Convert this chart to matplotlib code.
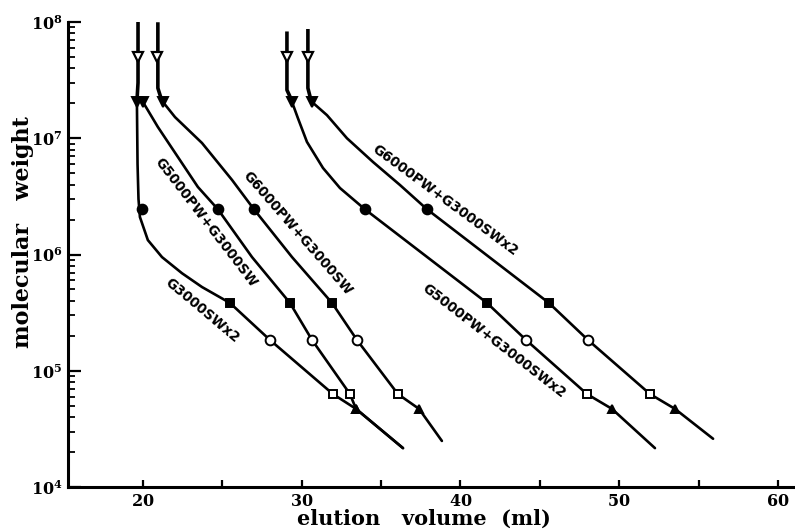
import math
import matplotlib
matplotlib.use("Agg")
import matplotlib.pyplot as plt
from matplotlib.ticker import LogLocator, FixedLocator, NullFormatter, FuncFormatter

plt.rcParams['mathtext.fontset'] = 'dejavuserif'

# ---- data ----
curve_names = ["G3000SWx2", "G5000PW+G3000SW", "G6000PW+G3000SW",
               "G5000PW+G3000SWx2", "G6000PW+G3000SWx2"]

# molecular weights of the standards (marker rows)
mw_open_tri = 5.0e7
mw_tri = 2.05e7
mw_circle = 2.45e6
mw_square = 3.83e5
mw_open_circle = 1.84e5
mw_open_square = 6.3e4
mw_small_tri = 4.7e4

# elution volumes of standards for each curve
ev_open_tri = [19.69, None, 20.88, 29.07, 30.39]
ev_tri = [19.62, 20.00, 21.26, 29.39, 30.65]
ev_circle = [19.94, 24.72, 26.99, 33.98, 37.89]
ev_square = [25.48, 29.26, 31.91, 41.67, 45.57]
ev_open_circle = [28.00, 30.65, 33.48, 44.13, 48.03]
ev_open_square = [31.97, 33.04, 36.06, 47.97, 51.94]
ev_small_tri = [33.42, 33.42, 37.39, 49.54, 53.51]

# arrow (excluded) lines: top -> filled triangle
arrow_x = [[19.69, 19.69, 19.62], None, [20.94, 20.94, 21.10, 21.26],
           [29.07, 29.07, 29.25, 29.39], [30.39, 30.39, 30.52, 30.65]]
arrow_y = [[1.0e8, 3.0e7, 2.05e7], None, [9.6e7, 2.7e7, 2.3e7, 2.05e7],
           [8.0e7, 2.6e7, 2.3e7, 2.05e7], [8.4e7, 2.7e7, 2.3e7, 2.05e7]]

# calibration curve traces
c1_x = [19.62, 19.66, 19.72, 19.81, 20.31, 21.20, 22.46, 23.72, 25.48, 28.00, 31.97, 33.42, 36.38]
c1_y = [2.05e7, 6.0e6, 3.0e6, 2.1e6, 1.33e6, 9.5e5, 6.9e5, 5.25e5, 3.83e5, 1.84e5, 6.3e4, 4.7e4, 2.16e4]
c2_x = [20.00, 20.94, 22.20, 23.46, 24.72, 26.87, 29.26, 30.65, 33.04, 33.42, 36.38]
c2_y = [2.05e7, 1.25e7, 6.9e6, 3.81e6, 2.45e6, 9.5e5, 3.83e5, 1.84e5, 6.3e4, 4.7e4, 2.16e4]
c3_x = [21.26, 22.02, 23.72, 25.61, 26.99, 29.39, 31.91, 33.48, 36.06, 37.39, 38.83]
c3_y = [2.05e7, 1.52e7, 9.1e6, 4.38e6, 2.45e6, 9.5e5, 3.83e5, 1.84e5, 6.3e4, 4.7e4, 2.49e4]
c4_x = [29.39, 29.76, 30.33, 31.34, 32.41, 33.98, 41.67, 44.13, 47.97, 49.54, 52.25]
c4_y = [2.05e7, 1.49e7, 9.3e6, 5.55e6, 3.73e6, 2.45e6, 3.83e5, 1.84e5, 6.3e4, 4.7e4, 2.16e4]
c5_x = [30.65, 31.59, 32.85, 34.49, 36.19, 37.89, 45.57, 48.03, 51.94, 53.51, 55.91]
c5_y = [2.05e7, 1.58e7, 1.0e7, 6.25e6, 3.96e6, 2.45e6, 3.83e5, 1.84e5, 6.3e4, 4.7e4, 2.6e4]

curves_x = [c1_x, c2_x, c3_x, c4_x, c5_x]
curves_y = [c1_y, c2_y, c3_y, c4_y, c5_y]

x_ticks = [20, 30, 40, 50, 60]
x_minor = [25, 35, 45, 55]

# ---- figure ----
fig = plt.figure(figsize=(7.95, 5.31), dpi=100)
ax = fig.add_axes([68 / 795, 44 / 531, (795 - 68) / 795, 465 / 531])

for cx, cy in zip(curves_x, curves_y):
    ax.plot(cx, cy, color='black', lw=1.9, solid_capstyle='round', zorder=2)
for axx, axy in zip(arrow_x, arrow_y):
    if axx is not None:
        ax.plot(axx, axy, color='black', lw=2.6, zorder=2)

def mk(evs, mw, marker, ms, filled, mew=1.4):
    xs = [e for e in evs if e is not None]
    ax.plot(xs, [mw] * len(xs), linestyle='none', marker=marker, ms=ms,
            mfc='black' if filled else 'white', mec='black', mew=mew, zorder=3)

mk(ev_open_tri, mw_open_tri, 'v', 7, False, 1.6)
mk(ev_tri, mw_tri, 'v', 7, True)
mk(ev_circle, mw_circle, 'o', 7, True)
mk(ev_square, mw_square, 's', 6, True)
mk(ev_open_circle, mw_open_circle, 'o', 7, False)
mk(ev_open_square, mw_open_square, 's', 6, False)
mk(ev_small_tri, mw_small_tri, '^', 6, True)

ax.set_yscale('log')
ax.set_xlim(15.28, 61.07)
ax.set_ylim(1e4, 1e8)

for s in ['top', 'right']:
    ax.spines[s].set_visible(False)
for s in ['left', 'bottom']:
    ax.spines[s].set_linewidth(2.2)

ax.xaxis.set_major_locator(FixedLocator(x_ticks))
ax.xaxis.set_minor_locator(FixedLocator(x_minor))
ax.set_xticklabels([r'$\mathbf{%d}$' % t for t in x_ticks])
ax.yaxis.set_major_locator(LogLocator(base=10, numticks=10))
ax.yaxis.set_minor_locator(LogLocator(base=10, subs=range(2, 10), numticks=20))
ax.yaxis.set_minor_formatter(NullFormatter())
ax.yaxis.set_major_formatter(FuncFormatter(lambda v, p: r'$\mathbf{10^{%d}}$' % round(math.log10(v))))

ax.tick_params(axis='x', which='both', direction='in', length=5, width=1.6, pad=4)
ax.tick_params(axis='y', which='major', direction='in', length=9, width=1.6, pad=4)
ax.tick_params(axis='y', which='minor', direction='in', length=5, width=1.3)
for lab in ax.get_xticklabels() + ax.get_yticklabels():
    lab.set_fontsize(11.5)

# curve labels
lab_font = dict(family='DejaVu Sans', fontweight='bold', fontsize=9.8, color='black',
                ha='center', va='center', rotation_mode='anchor')
ax.text(23.72, 3.33e5, curve_names[0], rotation=-40, **lab_font)
ax.text(23.97, 1.87e6, curve_names[1], rotation=-52.5, **lab_font)
ax.text(29.76, 1.53e6, curve_names[2], rotation=-49, **lab_font)
ax.text(42.11, 1.80e5, curve_names[3], rotation=-37.7, **lab_font)
ax.text(39.02, 2.94e6, curve_names[4], rotation=-36.4, **lab_font)

fig.text(424 / 795, 1 - 525 / 531, 'elution   volume  (ml)', family='DejaVu Serif',
         fontweight='bold', fontsize=15, ha='center', va='baseline')
fig.text(23 / 795, 1 - 232 / 531, 'molecular   weight', family='DejaVu Serif',
         fontweight='bold', fontsize=16, ha='center', va='center', rotation=90)

fig.savefig('out.png', dpi=100)
